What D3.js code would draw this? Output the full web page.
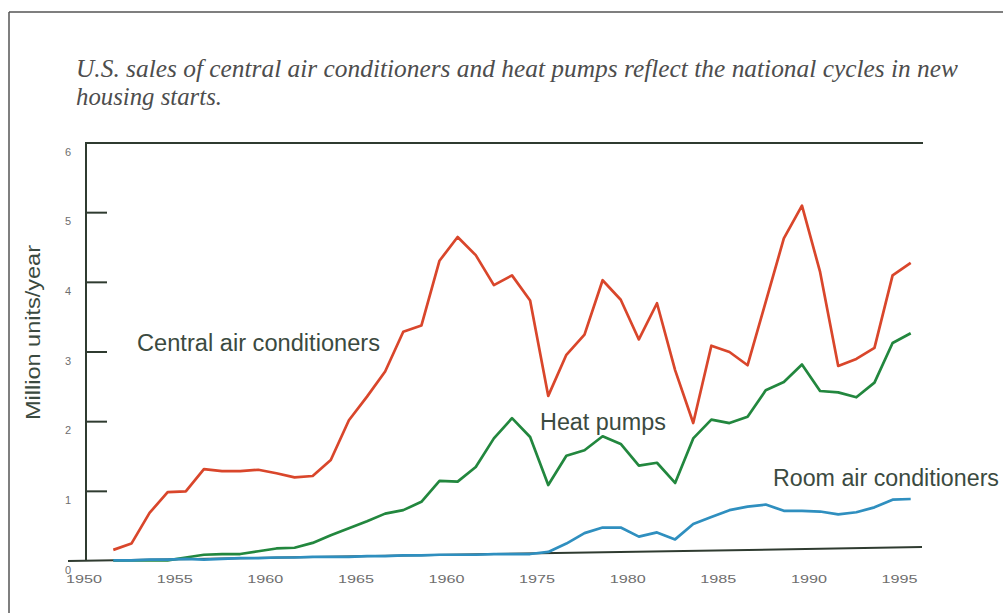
<!DOCTYPE html>
<html><head><meta charset="utf-8">
<script src="https://cdn.jsdelivr.net/npm/d3@7"></script>
<style>body{margin:0;background:#fff}svg{display:block}</style>
</head><body><svg id="c" width="1003" height="613"></svg>
<script>
// ---- data ----
const years = d3.range(1952, 1997); // 1952..1996
const centralAC = [0.16,0.25,0.69,0.99,1.00,1.32,1.29,1.29,1.31,1.26,1.20,1.22,1.45,2.02,2.36,2.72,3.29,3.38,4.31,4.65,4.39,3.96,4.10,3.74,2.37,2.96,3.25,4.03,3.75,3.18,3.70,2.74,1.98,3.09,3.00,2.81,3.72,4.63,5.10,4.15,2.80,2.90,3.06,4.10,4.28];
const heatPumps = [0.01,0.01,0.01,0.01,0.05,0.09,0.10,0.10,0.14,0.18,0.19,0.26,0.37,0.47,0.57,0.68,0.73,0.85,1.15,1.14,1.35,1.76,2.05,1.78,1.09,1.51,1.59,1.79,1.68,1.37,1.41,1.12,1.76,2.03,1.98,2.07,2.45,2.57,2.82,2.44,2.42,2.35,2.56,3.13,3.27];
const roomAC = [0.01,0.01,0.02,0.02,0.03,0.02,0.03,0.04,0.04,0.05,0.05,0.06,0.06,0.06,0.07,0.07,0.08,0.08,0.09,0.09,0.09,0.10,0.10,0.10,0.13,0.25,0.40,0.48,0.48,0.35,0.41,0.31,0.53,0.63,0.73,0.78,0.81,0.72,0.72,0.71,0.67,0.70,0.77,0.88,0.89];
const xTickYears = [1950,1955,1960,1965,1970,1975,1980,1985,1990,1995];
const xTickLabels = ["1950","1955","1960","1965","1960","1975","1980","1985","1990","1995"];
const yTicks = [0,1,2,3,4,5,6];
const baselineVals = [0, 0.2];
const seriesNames = ["Central air conditioners","Heat pumps","Room air conditioners"];
const title1 = "U.S. sales of central air conditioners and heat pumps reflect the national cycles in new";
const title2 = "housing starts.";
const yTitle = "Million units/year";

// ---- layout ----
const svg = d3.select("#c");
const axisCol = "#2f3b30";
const x = d3.scaleLinear().domain([1952, 1996]).range([113.3, 910.7]);
const y = d3.scaleLinear().domain([0, 6]).range([561, 143]);
const axisX = 86, rightX = 923;

// frame
svg.append("line").attr("x1",9).attr("x2",1003).attr("y1",12).attr("y2",12).attr("stroke","#555").attr("stroke-width",1.5);
svg.append("line").attr("x1",9).attr("x2",9).attr("y1",12).attr("y2",613).attr("stroke","#555").attr("stroke-width",1.5);

// title
const tg = svg.append("g").attr("font-family","'Liberation Serif','DejaVu Serif',serif").attr("font-style","italic").attr("font-size",25).attr("fill","#4d4d4d");
tg.append("text").attr("x",76).attr("y",77).attr("textLength",882).attr("lengthAdjust","spacingAndGlyphs").text(title1);
tg.append("text").attr("x",76).attr("y",105).attr("textLength",146).attr("lengthAdjust","spacingAndGlyphs").text(title2);

// y title
svg.append("text").attr("transform","translate(40,332.5) rotate(-90)").attr("text-anchor","middle")
  .attr("font-family","'Liberation Sans',Arial,sans-serif").attr("font-size",21).attr("fill","#3b4a40")
  .attr("textLength",175).attr("lengthAdjust","spacingAndGlyphs").text(yTitle);

// axes
svg.append("line").attr("x1",axisX).attr("x2",axisX).attr("y1",y(6)).attr("y2",y(0)).attr("stroke",axisCol).attr("stroke-width",2);
svg.append("line").attr("x1",axisX-1).attr("x2",rightX).attr("y1",y(6)).attr("y2",y(6)).attr("stroke",axisCol).attr("stroke-width",2);
svg.selectAll(".yt").data(yTicks.filter(d=>d>0&&d<6)).enter().append("line")
  .attr("x1",axisX).attr("x2",107).attr("y1",d=>y(d)).attr("y2",d=>y(d)).attr("stroke",axisCol).attr("stroke-width",2);
svg.selectAll(".ytl").data(yTicks).enter().append("text")
  .attr("x",68).attr("y",d=>y(d)+12.5).attr("text-anchor","middle")
  .attr("font-family","'Liberation Sans',Arial,sans-serif").attr("font-size",11).attr("fill","#6e6e6e").text(d=>d);

// x tick labels via axis
const xAxis = d3.axisBottom(x).tickValues(xTickYears).tickSize(0).tickPadding(0)
  .tickFormat((d,i)=>xTickLabels[i]);
const xg = svg.append("g").attr("transform","translate(6.5,576)").call(xAxis);
xg.select(".domain").remove();
xg.selectAll("text").attr("font-family","'Liberation Sans',Arial,sans-serif").attr("font-size",10.5)
  .attr("fill","#6e6e6e").attr("textLength",36).attr("lengthAdjust","spacingAndGlyphs");

// baseline (slightly rising)
svg.append("line").attr("x1",68).attr("x2",922).attr("y1",y(baselineVals[0])).attr("y2",y(baselineVals[1]))
  .attr("stroke",axisCol).attr("stroke-width",2);

// series
const line = d3.line().x((d,i)=>x(years[i])).y(d=>y(d));
const series = [
  {vals: heatPumps, color:"#22873e"},
  {vals: centralAC, color:"#d9462b"},
  {vals: roomAC, color:"#2f8fbf"}
];
series.forEach(s=>{
  svg.append("path").datum(s.vals).attr("d",line).attr("fill","none")
    .attr("stroke",s.color).attr("stroke-width",2.7).attr("stroke-linejoin","round");
});

// labels
const lg = svg.append("g").attr("font-family","'Liberation Sans',Arial,sans-serif").attr("font-size",23).attr("fill","#3b4a40");
lg.append("text").attr("x",137).attr("y",351).attr("textLength",243).attr("lengthAdjust","spacingAndGlyphs").text(seriesNames[0]);
lg.append("text").attr("x",540).attr("y",430).attr("textLength",126).attr("lengthAdjust","spacingAndGlyphs").text(seriesNames[1]);
lg.append("text").attr("x",773).attr("y",486).attr("textLength",226).attr("lengthAdjust","spacingAndGlyphs").text(seriesNames[2]);
</script></body></html>
